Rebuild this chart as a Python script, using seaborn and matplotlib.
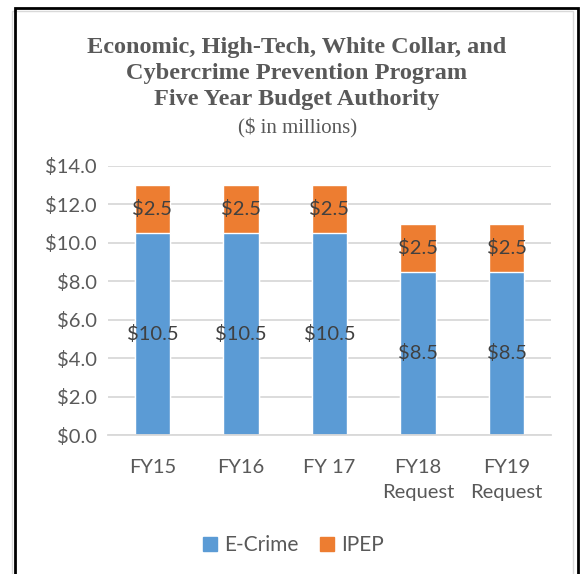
import matplotlib
matplotlib.use("Agg")
import matplotlib.pyplot as plt
import seaborn as sns
import pandas as pd
from matplotlib.patches import Rectangle

years = ["FY15", "FY16", "FY 17", "FY18\nRequest", "FY19\nRequest"]
ecrime = [10.5, 10.5, 10.5, 8.5, 8.5]
ipep = [2.5, 2.5, 2.5, 2.5, 2.5]
yticks = [0, 2, 4, 6, 8, 10, 12, 14]

blue = "#5B9BD5"
orange = "#ED7D31"
grey = "#595959"

sns.set_theme(style="white")
plt.rcParams['font.family'] = ['Lato', 'DejaVu Sans']

df = pd.DataFrame({"year": years, "E-Crime": ecrime, "IPEP": ipep})
df["total"] = df["E-Crime"] + df["IPEP"]

fig = plt.figure(figsize=(5.81, 5.74), dpi=100)
ax = fig.add_axes([0.186, 0.242, 0.762, 0.469])

# stacked bars: totals in orange, E-Crime in blue on top
sns.barplot(data=df, x="year", y="total", color=orange, width=0.4,
            saturation=1, ax=ax, zorder=2)
sns.barplot(data=df, x="year", y="E-Crime", color=blue, width=0.4,
            saturation=1, ax=ax, zorder=2)

for i, (e, p) in enumerate(zip(ecrime, ipep)):
    ax.text(i, e / 2, f"${e:.1f}", ha="center", va="center",
            fontsize=14.5, color="#404040", zorder=4)
    ax.text(i, e + p / 2, f"${p:.1f}", ha="center", va="center",
            fontsize=14.5, color="#404040", zorder=4)

ax.set_ylim(0, 14)
ax.set_xlim(-0.5, 4.5)
ax.set_yticks(yticks)
ax.set_yticklabels([f"${v:.1f}" for v in yticks])
ax.yaxis.grid(True, color="#D9D9D9", linewidth=1.3, zorder=0)
ax.set_axisbelow(True)
ax.tick_params(axis="both", length=0, labelsize=14.5, colors=grey, pad=8)
ax.tick_params(axis="x", pad=17)
for lbl in ax.get_xticklabels():
    lbl.set_linespacing(1.6)
ax.set_xlabel("")
ax.set_ylabel("")
for s in ["top", "right", "left"]:
    ax.spines[s].set_visible(False)
ax.spines["bottom"].set_color("#D9D9D9")
ax.spines["bottom"].set_linewidth(1.3)

# title
serif = ['Liberation Serif', 'DejaVu Serif']
fig.text(0.511, 0.936, "Economic, High-Tech, White Collar, and\nCybercrime Prevention Program\nFive Year Budget Authority",
         ha="center", va="top", fontsize=17.5, fontweight="bold", color=grey,
         family=serif, linespacing=1.32)
fig.text(0.512, 0.777, "($ in millions)", ha="center", va="center",
         fontsize=15, color=grey, family=serif)

# legend
handles = [Rectangle((0, 0), 1, 1, color=blue), Rectangle((0, 0), 1, 1, color=orange)]
fig.legend(handles, ["E-Crime", "IPEP"], loc="center", bbox_to_anchor=(0.505, 0.05),
           ncol=2, frameon=False, fontsize=15, labelcolor=grey,
           handlelength=0.7, handleheight=0.7, handletextpad=0.35, columnspacing=1.0)

# borders
fig.patches.append(Rectangle((0.021, -0.02), 0.966, 1.0, transform=fig.transFigure,
                             fill=False, edgecolor="#D9D9D9", linewidth=1))
fig.patches.append(Rectangle((0.025, -0.02), 0.97, 1.006, transform=fig.transFigure,
                             fill=False, edgecolor="black", linewidth=2))

fig.savefig("out.png", dpi=100)
